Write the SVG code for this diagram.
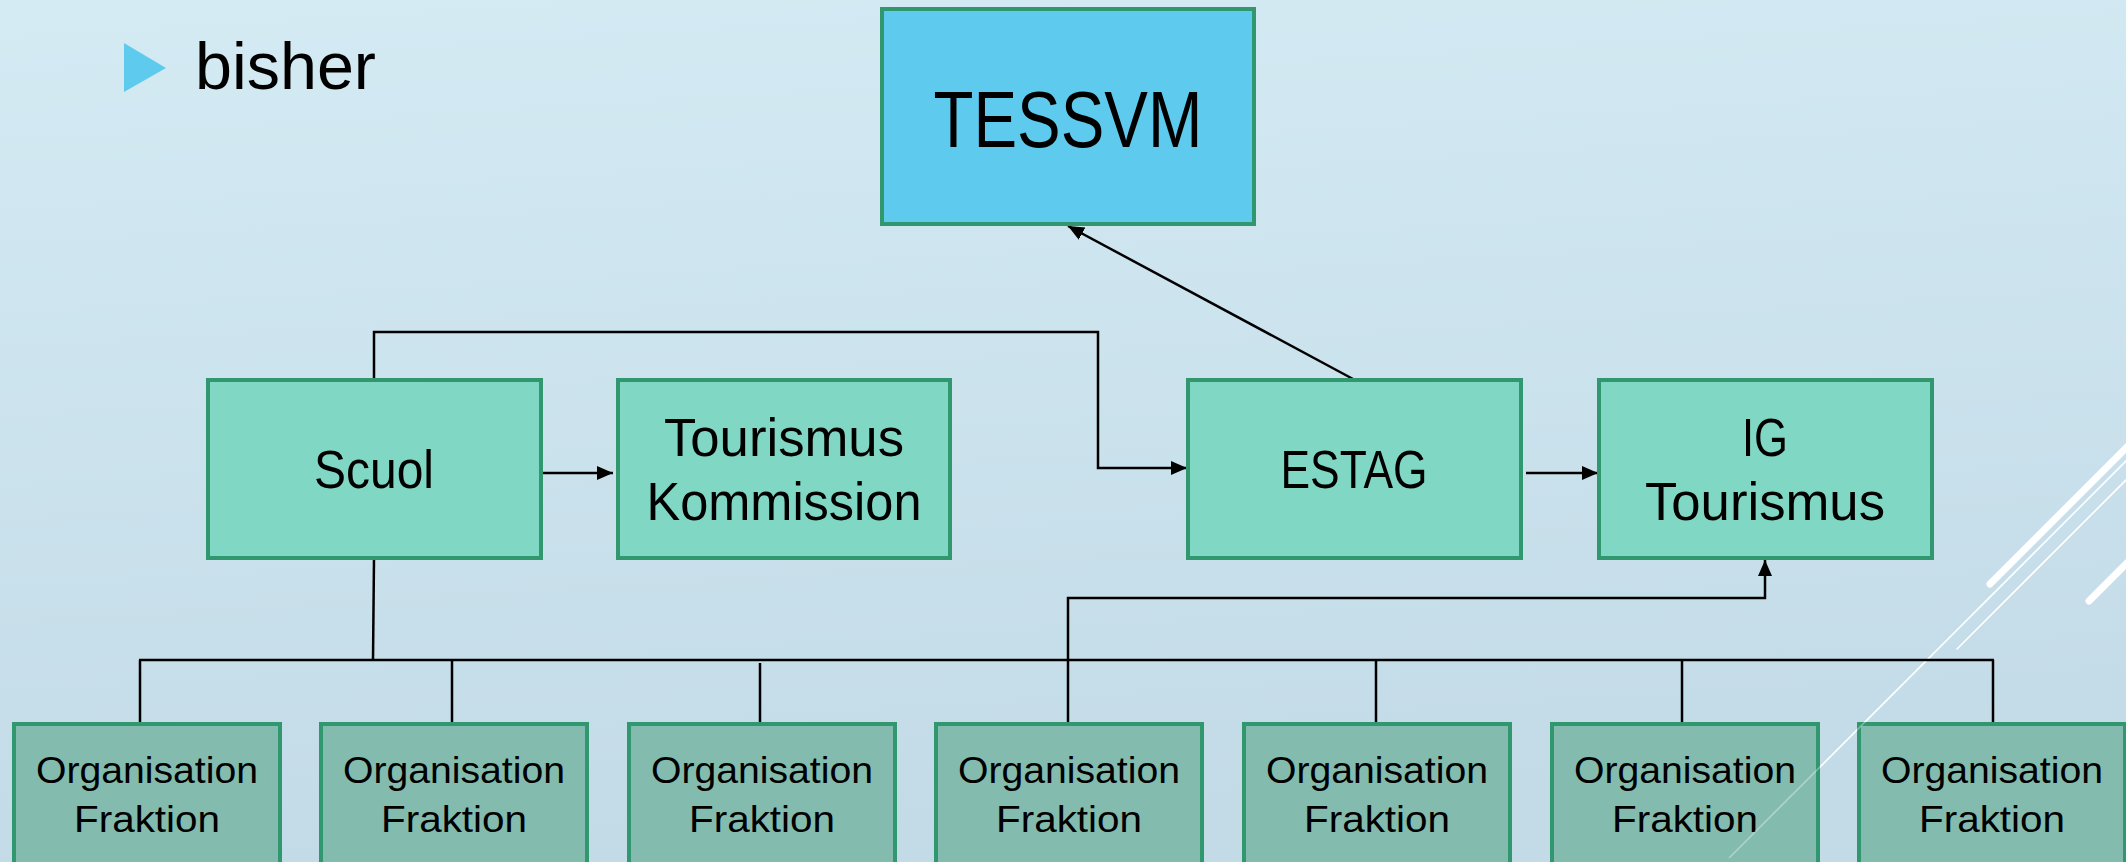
<svg xmlns="http://www.w3.org/2000/svg" width="2126" height="862" viewBox="0 0 2126 862">
<defs>
<linearGradient id="bg" x1="0" y1="0" x2="0.15" y2="1">
<stop offset="0" stop-color="#d4ebf4"/>
<stop offset="1" stop-color="#c3dbe7"/>
</linearGradient>
<marker id="ah" markerUnits="userSpaceOnUse" markerWidth="18" markerHeight="16" refX="16" refY="7" orient="auto">
<path d="M0,0 L16,7 L0,14 z" fill="#000"/>
</marker>
<style>
.box{fill:#80d8c4;stroke:#30976f;stroke-width:4}
.org{fill:#83bcae;stroke:#30976f;stroke-width:4}
.t{font-family:"Liberation Sans",Arial,sans-serif;fill:#000;text-anchor:middle}
.big{font-size:53px}
.small{font-size:37px}
.c{fill:none;stroke:#000;stroke-width:2.5}
.deco{stroke:#fff;fill:none;stroke-linecap:round}
</style>
</defs>
<rect width="2126" height="862" fill="url(#bg)"/>
<g id="decoration">
<line class="deco" x1="1990" y1="584" x2="2130" y2="444" stroke-width="7"/>
<line class="deco" x1="2089" y1="601" x2="2130" y2="560" stroke-width="7"/>
<line class="deco" x1="1729" y1="858" x2="2130" y2="457" stroke-width="1.6"/>
<line class="deco" x1="1957" y1="649" x2="2130" y2="476" stroke-width="1.6"/>
</g>
<g id="title">
<polygon points="124,43 166,68 124,92" fill="#5ecbee"/>
<text x="195" y="89" font-family="Liberation Sans,Arial,sans-serif" font-size="66" textLength="181" lengthAdjust="spacingAndGlyphs">bisher</text>
</g>
<g id="connectors">
<line class="c" x1="1353" y1="379" x2="1068" y2="226" marker-end="url(#ah)"/>
<line class="c" x1="541" y1="473" x2="613" y2="473" marker-end="url(#ah)"/>
<path class="c" d="M374,379 V332 H1098 V468 H1187" marker-end="url(#ah)"/>
<line class="c" x1="1526" y1="473" x2="1598" y2="473" marker-end="url(#ah)"/>
<path class="c" d="M1068,723 V598 H1765 V560" marker-end="url(#ah)"/>
<path class="c" d="M374,558 L373,660"/>
<path class="c" d="M139,660 H1994" stroke-width="3"/>
<path class="c" d="M140,660 V723 M452,660 V723 M760,663 V723 M1376,660 V723 M1682,660 V723 M1993,660 V723"/>
</g>
<g id="tessvm">
<rect x="882" y="9" width="372" height="215" fill="#5ecbee" stroke="#30976f" stroke-width="4"/>
<text class="t" x="1068" y="147" font-size="80" textLength="269" lengthAdjust="spacingAndGlyphs">TESSVM</text>
</g>
<g id="scuol">
<rect class="box" x="208" y="380" width="333" height="178"/>
<text class="t big" x="374" y="488" textLength="120" lengthAdjust="spacingAndGlyphs">Scuol</text>
</g>
<g id="tourismus-kommission">
<rect class="box" x="618" y="380" width="332" height="178"/>
<text class="t big" x="784" y="456" textLength="240" lengthAdjust="spacingAndGlyphs">Tourismus</text>
<text class="t big" x="784" y="520" textLength="275" lengthAdjust="spacingAndGlyphs">Kommission</text>
</g>
<g id="estag">
<rect class="box" x="1188" y="380" width="333" height="178"/>
<text class="t big" x="1354" y="488" textLength="147" lengthAdjust="spacingAndGlyphs">ESTAG</text>
</g>
<g id="ig-tourismus">
<rect class="box" x="1599" y="380" width="333" height="178"/>
<text class="t big" x="1765" y="456" textLength="46" lengthAdjust="spacingAndGlyphs">IG</text>
<text class="t big" x="1765" y="520" textLength="240" lengthAdjust="spacingAndGlyphs">Tourismus</text>
</g>
<g id="org1"><rect class="org" x="14" y="724" width="266" height="160"/><text class="t small" x="147" y="783" textLength="222" lengthAdjust="spacingAndGlyphs">Organisation</text><text class="t small" x="147" y="832" textLength="146" lengthAdjust="spacingAndGlyphs">Fraktion</text></g>
<g id="org2"><rect class="org" x="321" y="724" width="266" height="160"/><text class="t small" x="454" y="783" textLength="222" lengthAdjust="spacingAndGlyphs">Organisation</text><text class="t small" x="454" y="832" textLength="146" lengthAdjust="spacingAndGlyphs">Fraktion</text></g>
<g id="org3"><rect class="org" x="629" y="724" width="266" height="160"/><text class="t small" x="762" y="783" textLength="222" lengthAdjust="spacingAndGlyphs">Organisation</text><text class="t small" x="762" y="832" textLength="146" lengthAdjust="spacingAndGlyphs">Fraktion</text></g>
<g id="org4"><rect class="org" x="936" y="724" width="266" height="160"/><text class="t small" x="1069" y="783" textLength="222" lengthAdjust="spacingAndGlyphs">Organisation</text><text class="t small" x="1069" y="832" textLength="146" lengthAdjust="spacingAndGlyphs">Fraktion</text></g>
<g id="org5"><rect class="org" x="1244" y="724" width="266" height="160"/><text class="t small" x="1377" y="783" textLength="222" lengthAdjust="spacingAndGlyphs">Organisation</text><text class="t small" x="1377" y="832" textLength="146" lengthAdjust="spacingAndGlyphs">Fraktion</text></g>
<g id="org6"><rect class="org" x="1552" y="724" width="266" height="160"/><text class="t small" x="1685" y="783" textLength="222" lengthAdjust="spacingAndGlyphs">Organisation</text><text class="t small" x="1685" y="832" textLength="146" lengthAdjust="spacingAndGlyphs">Fraktion</text></g>
<g id="org7"><rect class="org" x="1859" y="724" width="266" height="160"/><text class="t small" x="1992" y="783" textLength="222" lengthAdjust="spacingAndGlyphs">Organisation</text><text class="t small" x="1992" y="832" textLength="146" lengthAdjust="spacingAndGlyphs">Fraktion</text></g>
<g id="deco-front">
<line x1="1729" y1="858" x2="1900" y2="687" stroke="#fff" stroke-opacity="0.35" stroke-width="1.6"/>
</g>
</svg>
